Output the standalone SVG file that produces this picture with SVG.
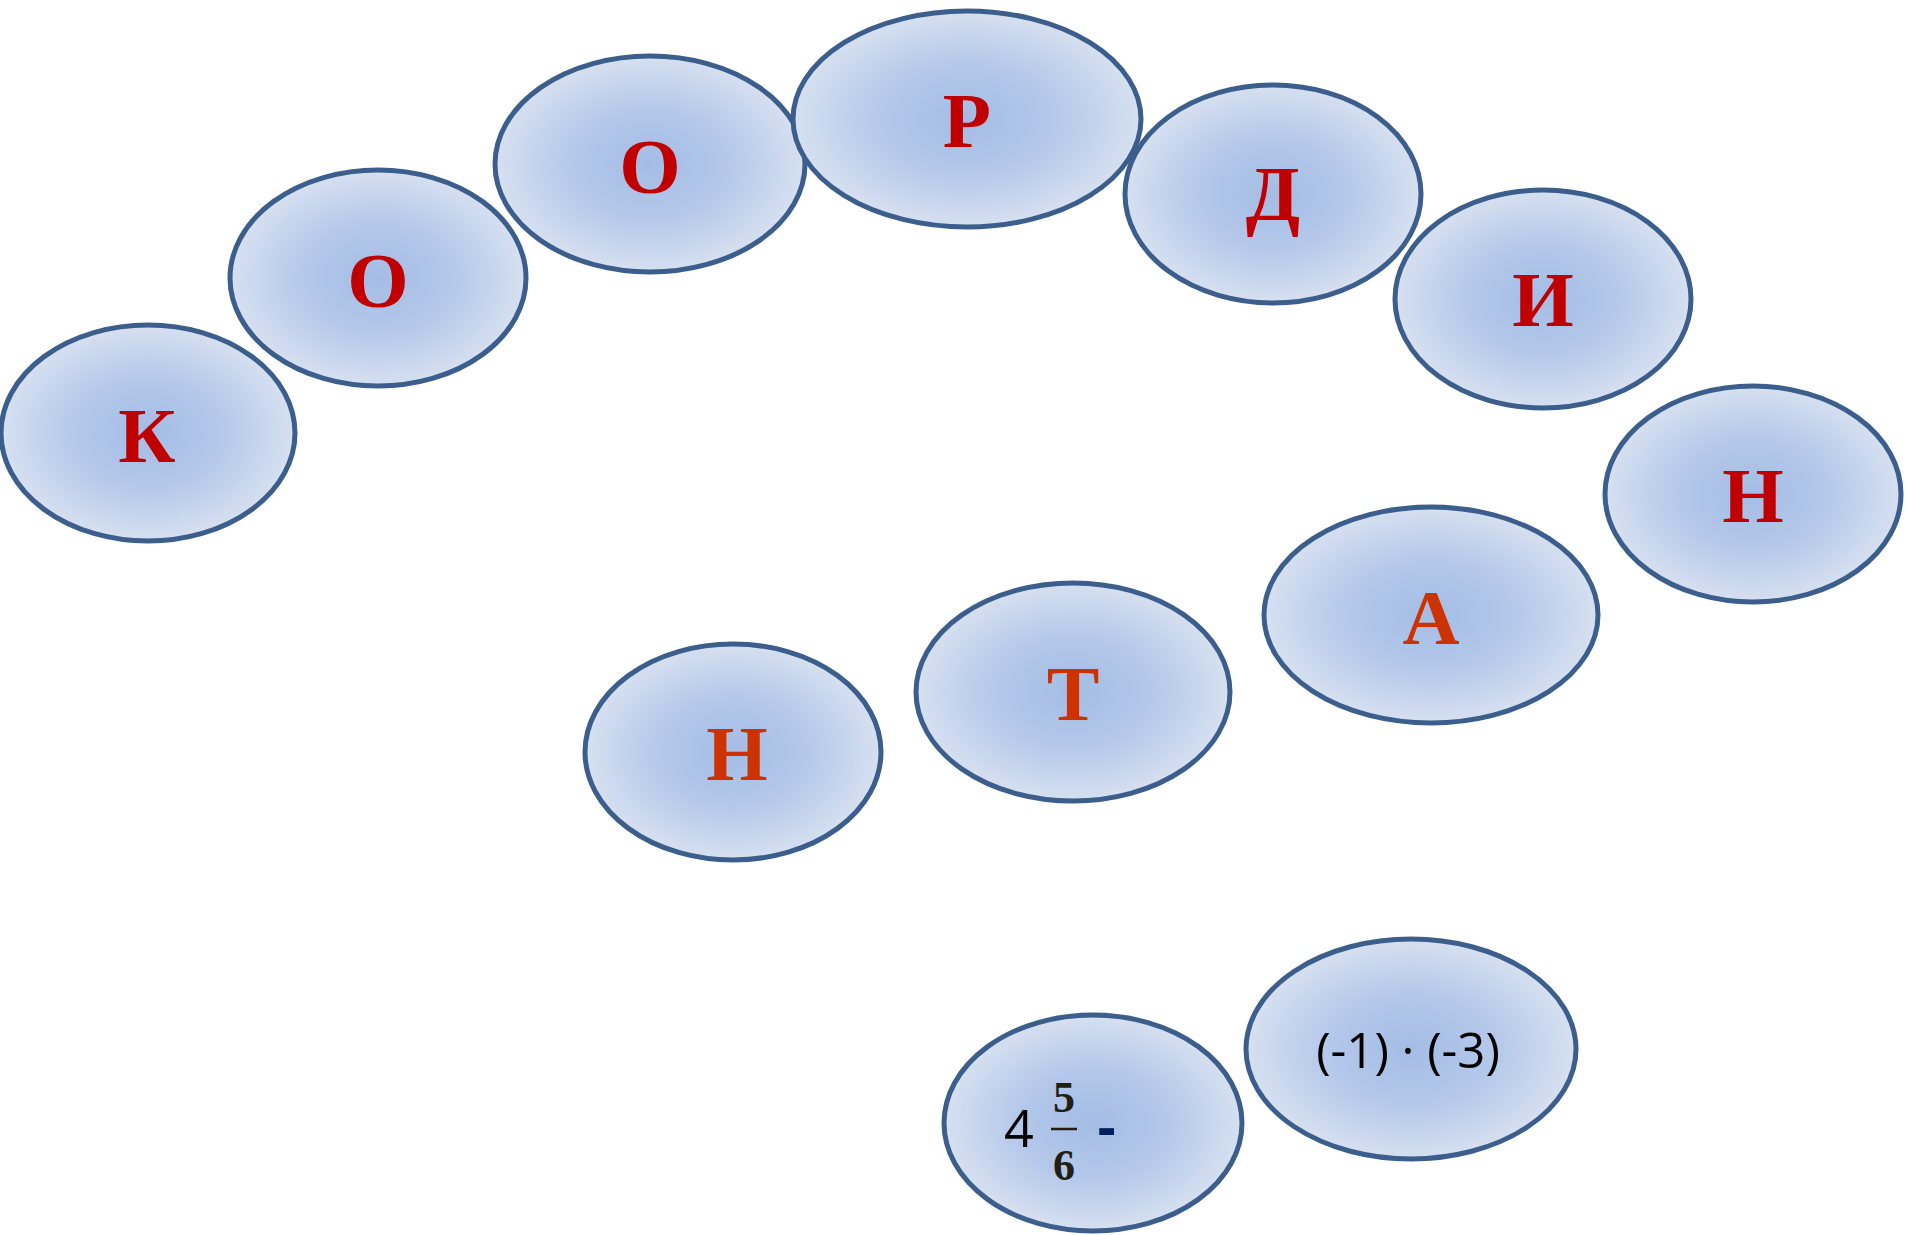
<svg xmlns="http://www.w3.org/2000/svg" width="1905" height="1235" viewBox="0 0 1905 1235">
<defs>
<radialGradient id="fillGrad" cx="0.5" cy="0.5" r="0.5">
<stop offset="0" stop-color="#A4BCE5"/>
<stop offset="0.5" stop-color="#B4C8EA"/>
<stop offset="1" stop-color="#D6E0F0"/>
</radialGradient>
</defs>
<style>
.bub{fill:url(#fillGrad);stroke:#3C5E8D;stroke-width:5}
.lt{font-family:"Liberation Serif","Times New Roman",serif;font-weight:bold;font-size:79px;text-anchor:middle}
.dr{fill:#C00000}
.or{fill:#CC3300}
.sans{font-family:"Open Sans","Liberation Sans",sans-serif;fill:#000}
.frac{font-family:"Liberation Serif","Times New Roman",serif;font-weight:bold;font-size:44px;fill:#231E14;text-anchor:middle}
</style>
<rect width="1905" height="1235" fill="#FFFFFF"/>
<g id="connectors"/>
<g id="node-k"><ellipse class="bub" cx="148" cy="433" rx="147" ry="108"/><text class="lt dr" x="147" y="462">К</text></g>
<g id="node-o1"><ellipse class="bub" cx="378" cy="278" rx="148" ry="108"/><text class="lt dr" x="378" y="307">О</text></g>
<g id="node-o2"><ellipse class="bub" cx="650" cy="164" rx="155" ry="108"/><text class="lt dr" x="650" y="193">О</text></g>
<g id="node-r"><ellipse class="bub" cx="967" cy="119" rx="174" ry="108"/><text class="lt dr" x="967" y="147">Р</text></g>
<g id="node-d"><ellipse class="bub" cx="1273" cy="194" rx="148" ry="109"/><text class="lt dr" x="1273" y="220">Д</text></g>
<g id="node-i"><ellipse class="bub" cx="1543" cy="299" rx="148" ry="109"/><text class="lt dr" x="1543" y="326">И</text></g>
<g id="node-n1"><ellipse class="bub" cx="1753" cy="494" rx="148" ry="108"/><text class="lt dr" x="1753" y="522">Н</text></g>
<g id="node-a"><ellipse class="bub" cx="1431" cy="615" rx="167" ry="108"/><text class="lt or" x="1431" y="644">А</text></g>
<g id="node-t"><ellipse class="bub" cx="1073" cy="692" rx="157" ry="109"/><text class="lt or" x="1073" y="720">Т</text></g>
<g id="node-n2"><ellipse class="bub" cx="733" cy="752" rx="148" ry="108"/><text class="lt or" x="737" y="780">Н</text></g>
<g id="node-product"><ellipse class="bub" cx="1411" cy="1049" rx="165" ry="110"/><text class="sans" x="1408" y="1068" font-size="49" text-anchor="middle">(-1) · (-3)</text></g>
<g id="node-fraction"><ellipse class="bub" cx="1093" cy="1123" rx="149" ry="108"/>
<text class="sans" x="1004" y="1147" font-size="52">4</text>
<text class="frac" x="1064" y="1112">5</text>
<line x1="1051" y1="1129" x2="1077" y2="1129" stroke="#231E14" stroke-width="2.5"/>
<text class="frac" x="1064" y="1180">6</text>
<text x="1097" y="1147" font-family="Liberation Sans, Arial, sans-serif" font-weight="bold" font-size="58" fill="#002060">-</text>
</g>
</svg>
